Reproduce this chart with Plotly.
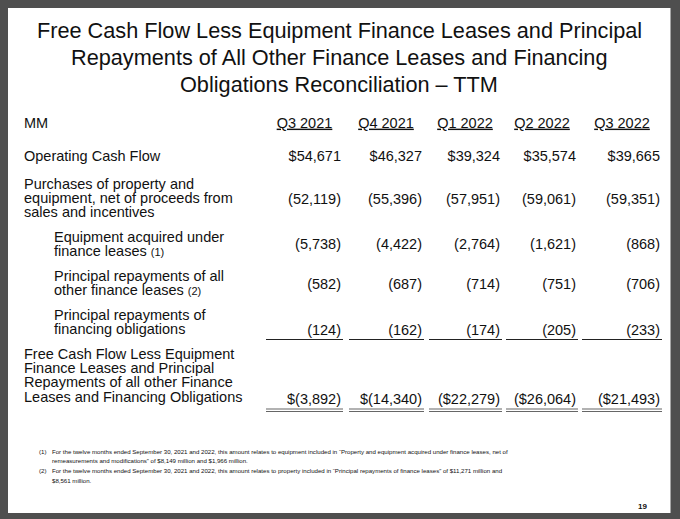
import plotly.graph_objects as go

# --- Data ---
QUARTERS = ["Q3 2021", "Q4 2021", "Q1 2022", "Q2 2022", "Q3 2022"]

operating_cash_flow = [54671, 46327, 39324, 35574, 39665]
purchases_property = [-52119, -55396, -57951, -59061, -59351]
equipment_finance_leases = [-5738, -4422, -2764, -1621, -868]
principal_other_finance_leases = [-582, -687, -714, -751, -706]
principal_financing_obligations = [-124, -162, -174, -205, -233]
free_cash_flow_less = [-3892, -14340, -22279, -26064, -21493]

ROW_LABELS = [
    ["Operating Cash Flow"],
    ["Purchases of property and", "equipment, net of proceeds from", "sales and incentives"],
    ["Equipment acquired under", "finance leases <span style='font-size:11px'>(1)</span>"],
    ["Principal repayments of all", "other finance leases <span style='font-size:11px'>(2)</span>"],
    ["Principal repayments of", "financing obligations"],
    ["Free Cash Flow Less Equipment", "Finance Leases and Principal",
     "Repayments of all other Finance", "Leases and Financing Obligations"],
]
ROW_VALUES = [
    operating_cash_flow,
    purchases_property,
    equipment_finance_leases,
    principal_other_finance_leases,
    principal_financing_obligations,
    free_cash_flow_less,
]
# the slide writes the total row two different ways
TOTAL_FORMATS = ["$({})", "$({})", "(${})", "(${})", "(${})"]

TITLE_LINES = [
    "Free Cash Flow Less Equipment Finance Leases and Principal",
    "Repayments of All Other Finance Leases and Financing",
    "Obligations Reconciliation \u2013 TTM",
]
FOOTNOTES = [
    ("(1)", "For the twelve months ended September 30, 2021 and 2022, this amount relates to equipment included in \u201cProperty and equipment acquired under finance leases, net of"),
    ("", "remeasurements and modifications\u201d of $8,149 million and $1,966 million."),
    ("(2)", "For the twelve months ended September 30, 2021 and 2022, this amount relates to property included in \u201cPrincipal repayments of finance leases\u201d of $11,271 million and"),
    ("", "$8,561 million."),
]
PAGE_NUMBER = "19"

# --- Layout constants (pixel space of the 680x519 page) ---
W, H = 680, 519
FONT = "Liberation Sans, Arial, sans-serif"
INK = "#111111"
COL_RIGHT = [341, 422, 500, 576, 660]
COL_HEAD_CENTER = [304.5, 386, 465, 542, 622]
COL_SEG = [(266, 343), (349, 424), (429, 502), (506, 578), (582, 662)]
ROW_FIRST_LINE = [157, 185, 238, 277, 316, 355]
ROW_VALUE_Y = [157, 200, 245, 285, 331, 400]
ROW_INDENT = [24, 24, 54, 54, 54, 24]
LINE_GAP = 14.4
HEADER_Y = 124


def fmt(v, row, col):
    s = f"{abs(v):,}"
    if row == len(ROW_VALUES) - 1:
        return TOTAL_FORMATS[col].format(s)
    return f"${s}" if v >= 0 else f"({s})"


fig = go.Figure()

# label column
lx, ly, lt = [], [], []
for r, lines in enumerate(ROW_LABELS):
    for i, line in enumerate(lines):
        lx.append(ROW_INDENT[r])
        ly.append(ROW_FIRST_LINE[r] + i * LINE_GAP)
        lt.append(line)
lx.append(24)
ly.append(HEADER_Y)
lt.append("MM")
fig.add_trace(
    go.Scatter(
        x=lx, y=ly, text=lt, mode="text", textposition="middle right",
        textfont=dict(family=FONT, size=14.5, color=INK), hoverinfo="skip",
    )
)

# value columns
vx, vy, vt = [], [], []
for r, vals in enumerate(ROW_VALUES):
    for c, v in enumerate(vals):
        vx.append(COL_RIGHT[c])
        vy.append(ROW_VALUE_Y[r])
        vt.append(fmt(v, r, c))
fig.add_trace(
    go.Scatter(
        x=vx, y=vy, text=vt, mode="text", textposition="middle left",
        textfont=dict(family=FONT, size=14.5, color=INK), hoverinfo="skip",
    )
)

# quarter headers
fig.add_trace(
    go.Scatter(
        x=COL_HEAD_CENTER, y=[HEADER_Y] * len(QUARTERS),
        text=[f"<u>{q}</u>" for q in QUARTERS], mode="text",
        textposition="middle center",
        textfont=dict(family=FONT, size=14.5, color=INK), hoverinfo="skip",
    )
)

shapes = [
    dict(type="rect", x0=8, x1=670.5, y0=8, y1=513, fillcolor="white",
         line=dict(width=0), layer="below"),
]
for x0, x1 in COL_SEG:
    shapes.append(dict(type="line", x0=x0, x1=x1, y0=339.5, y1=339.5,
                       line=dict(color="#222", width=1)))
    for yy in (409, 411.5):
        shapes.append(dict(type="line", x0=x0, x1=x1, y0=yy, y1=yy,
                           line=dict(color="#666", width=1.2)))

annotations = []
for i, line in enumerate(TITLE_LINES):
    annotations.append(dict(
        x=339, y=30 + i * 27, text=line, showarrow=False, xanchor="center",
        yanchor="middle", font=dict(family=FONT, size=21.7, color=INK),
    ))
for i, (num, txt) in enumerate(FOOTNOTES):
    yy = 451 + i * 9.7
    if num:
        annotations.append(dict(x=37, y=yy, text=num, showarrow=False, xanchor="left",
                                yanchor="middle", font=dict(family=FONT, size=6.1, color=INK)))
    annotations.append(dict(x=50, y=yy, text=txt, showarrow=False, xanchor="left",
                            yanchor="middle", font=dict(family=FONT, size=6.1, color=INK)))
annotations.append(dict(x=642, y=506, text=f"<b>{PAGE_NUMBER}</b>", showarrow=False,
                        xanchor="center", yanchor="middle",
                        font=dict(family=FONT, size=8, color=INK)))

fig.update_layout(
    width=W, height=H,
    margin=dict(l=0, r=0, t=0, b=0),
    paper_bgcolor="#4f4f4f", plot_bgcolor="#4f4f4f",
    showlegend=False,
    xaxis=dict(range=[0, W], visible=False, fixedrange=True),
    yaxis=dict(range=[H, 0], visible=False, fixedrange=True),
    shapes=shapes, annotations=annotations,
)

# drop the browser's default body margin so the page sits at the window corner
fig.write_html(
    "out.html",
    config={"displayModeBar": False},
    post_script="document.body.style.margin='0';",
)
